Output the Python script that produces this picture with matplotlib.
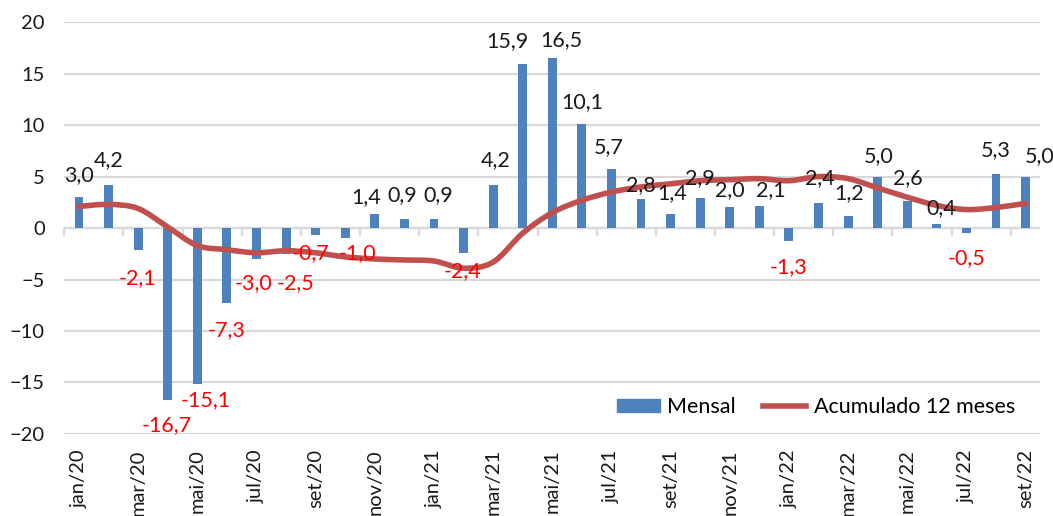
import numpy as np
import matplotlib.pyplot as plt
from matplotlib.path import Path
from matplotlib.patches import PathPatch
from matplotlib.lines import Line2D

plt.rcParams['font.family'] = ['Lato', 'DejaVu Sans']

# months jan/20 .. set/22
months = ['jan/20', 'fev/20', 'mar/20', 'abr/20', 'mai/20', 'jun/20', 'jul/20', 'ago/20',
          'set/20', 'out/20', 'nov/20', 'dez/20', 'jan/21', 'fev/21', 'mar/21', 'abr/21',
          'mai/21', 'jun/21', 'jul/21', 'ago/21', 'set/21', 'out/21', 'nov/21', 'dez/21',
          'jan/22', 'fev/22', 'mar/22', 'abr/22', 'mai/22', 'jun/22', 'jul/22', 'ago/22',
          'set/22']

# monthly change (%)
mensal = [3.0, 4.2, -2.1, -16.7, -15.1, -7.3, -3.0, -2.5, -0.7, -1.0, 1.4, 0.9, 0.9,
          -2.4, 4.2, 15.9, 16.5, 10.1, 5.7, 2.8, 1.4, 2.9, 2.0, 2.1, -1.3, 2.4, 1.2,
          5.0, 2.6, 0.4, -0.5, 5.3, 5.0]

# 12-month accumulated (%)
acumulado = [2.1, 2.3, 1.9, 0.1, -1.7, -2.1, -2.4, -2.2, -2.4, -2.8, -3.0, -3.1, -3.2,
             -3.9, -3.3, -0.5, 1.5, 2.7, 3.5, 4.0, 4.3, 4.6, 4.7, 4.8, 4.6, 5.0, 4.8,
             3.9, 3.0, 2.2, 1.8, 2.0, 2.4]

# label nudges in pixels (dx right, dy away from the bar end)
label_shift = [(0, 22), (0, 25), (-1, 28), (-1, 25), (8, 17), (0, 27), (-3, 24), (9, 29),
               (-5, 18), (12, 15), (-9, 17), (-2, 24), (4, 24), (-1, 18), (2, 25), (-15, 23),
               (9, 18), (0, 22), (-3, 22), (0, 14), (2, 21), (0, 20), (0, 17), (11, 16),
               (0, 26), (1, 25), (1, 23), (1, 21), (1, 23), (4, 16), (0, 25), (0, 23),
               (14, 21)]

blue = '#4F81BD'
red_line = '#C0504D'
grid_c = '#D9D9D9'


def smooth_path(xs, ys):
    """Bezier path through the points, like a spreadsheet smoothed line"""
    pts = np.column_stack([xs, ys]).astype(float)
    n = len(pts)
    verts = [pts[0]]
    codes = [Path.MOVETO]
    for i in range(n - 1):
        p0 = pts[i - 1] if i > 0 else pts[i]
        p1 = pts[i]
        p2 = pts[i + 1]
        p3 = pts[i + 2] if i + 2 < n else pts[i + 1]
        c1 = p1 + (p2 - p0) / 6.0
        c2 = p2 - (p3 - p1) / 6.0
        verts += [c1, c2, p2]
        codes += [Path.CURVE4] * 3
    return Path(verts, codes)


fig = plt.figure(figsize=(10.53, 5.16), dpi=100)
ax = fig.add_axes([0.061, 0.159, 0.927, 0.798])

x = np.arange(len(months))
ax.bar(x, mensal, width=0.3, color=blue, zorder=2)

patch = PathPatch(smooth_path(x, acumulado), facecolor='none', edgecolor=red_line,
                  lw=4, capstyle='round', joinstyle='round', zorder=3)
ax.add_patch(patch)

# data labels: black above positive bars, red below negative ones
px = 72.0 / fig.dpi
for xi, v, (dx, dy) in zip(x, mensal, label_shift):
    txt = f'{v:.1f}'.replace('.', ',')
    sign = 1 if v >= 0 else -1
    ax.annotate(txt, (xi, v), xytext=(dx * px, sign * dy * px), textcoords='offset points',
                ha='center', va='center', fontsize=15.5,
                color='#1a1a1a' if v >= 0 else '#FF0000', zorder=4)

ax.set_xlim(-0.5, len(months) - 0.5)
ax.set_ylim(-20, 20)
ax.set_yticks(np.arange(-20, 21, 5))
ax.yaxis.grid(True, color=grid_c, lw=1.6, zorder=0)
ax.set_axisbelow(True)
for s in ['left', 'right', 'top', 'bottom']:
    ax.spines[s].set_visible(False)
ax.tick_params(axis='y', length=0, labelsize=14.5, pad=14, labelcolor='#1a1a1a')

ax.set_xticks(x[::2])
ax.set_xticklabels(months[::2], rotation=90, fontsize=14.5)
ax.tick_params(axis='x', length=0, pad=11, labelcolor='#1a1a1a')

# zero axis with tick marks every two months
ax.axhline(0, color=grid_c, lw=1.6, zorder=1)
zero_ax = ax.secondary_xaxis(0.5)
zero_ax.set_xticks(np.arange(-0.5, len(months), 2))
zero_ax.set_xticklabels([])
zero_ax.tick_params(length=6, width=1.6, color=grid_c, direction='in')
for s in zero_ax.spines.values():
    s.set_visible(False)

handles = [plt.Rectangle((0, 0), 1, 1, color=blue),
           Line2D([0], [0], color=red_line, lw=4)]
ax.legend(handles, ['Mensal', 'Acumulado 12 meses'], loc='center',
          bbox_to_anchor=(0.77, 0.065), ncol=2, frameon=False, fontsize=15.5,
          handlelength=2.0, handleheight=0.5, columnspacing=1.25, handletextpad=0.35)

fig.savefig('out.png', dpi=100)
